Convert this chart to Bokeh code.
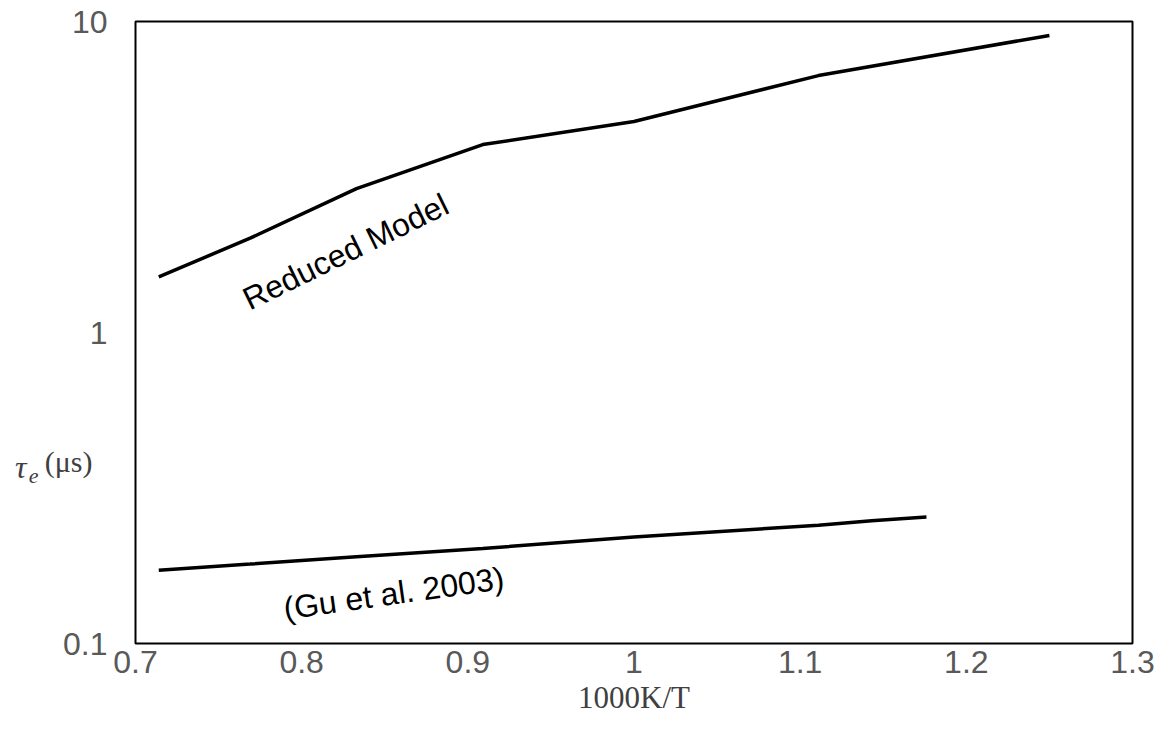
from bokeh.plotting import figure
from bokeh.models import FixedTicker, CustomJSTickFormatter, Label, Range1d, LogAxis
from bokeh.embed import file_html
from bokeh.resources import INLINE

# data
inv_temp = [0.714, 0.769, 0.833, 0.909, 1.0, 1.111, 1.25]
tau_reduced = [1.51, 2.01, 2.90, 4.02, 4.77, 6.70, 9.02]

inv_temp_gu = [0.714, 0.769, 0.833, 0.909, 1.0, 1.111, 1.143, 1.176]
tau_gu = [0.172, 0.180, 0.190, 0.202, 0.220, 0.240, 0.248, 0.255]

x_ticks = [0.7, 0.8, 0.9, 1.0, 1.1, 1.2, 1.3]
y_ticks = [0.1, 1, 10]

x_title = "1000K/T"
y_title_symbol = "τ"
y_title_sub = "e"
y_title_unit = "(μs)"

p = figure(width=1165, height=740, y_axis_type="log",
           x_range=Range1d(0.7, 1.3), y_range=Range1d(0.1, 10),
           output_backend="svg", toolbar_location=None,
           min_border_left=135, min_border_right=33,
           min_border_top=21, min_border_bottom=97)

p.line(inv_temp, tau_reduced, line_color="black", line_width=3.5)
p.line(inv_temp_gu, tau_gu, line_color="black", line_width=3.5)

p.xgrid.visible = False
p.ygrid.visible = False
p.outline_line_color = "black"
p.outline_line_width = 2
p.outline_line_alpha = 1.0
p.background_fill_color = "white"
p.border_fill_color = "white"

for ax in (p.xaxis[0], p.yaxis[0]):
    ax.axis_line_color = None
    ax.major_tick_line_color = None
    ax.minor_tick_line_color = None
    ax.major_tick_out = 0
    ax.minor_tick_out = 0
    ax.major_label_text_font = "Liberation Sans"
    ax.major_label_text_font_size = "32px"
    ax.major_label_text_color = "#595959"

p.xaxis.ticker = FixedTicker(ticks=x_ticks)
p.yaxis.ticker = FixedTicker(ticks=y_ticks)
p.xaxis.formatter = CustomJSTickFormatter(code="return String(Number(tick.toFixed(2)));")
p.yaxis.formatter = CustomJSTickFormatter(code="return String(Number(tick.toFixed(2)));")
p.xaxis.major_label_standoff = 7
p.yaxis.major_label_standoff = 28

p.xaxis.axis_label = x_title
p.xaxis.axis_label_text_font = "Liberation Serif"
p.xaxis.axis_label_text_font_style = "normal"
p.xaxis.axis_label_text_font_size = "31px"
p.xaxis.axis_label_text_color = "#404040"
p.xaxis.axis_label_standoff = 4


def title_axis(tick, text, size, style, standoff):
    ax = LogAxis(ticker=FixedTicker(ticks=[tick]),
                 formatter=CustomJSTickFormatter(code="return %r;" % text))
    ax.axis_line_color = None
    ax.major_tick_line_color = None
    ax.minor_tick_line_color = None
    ax.major_tick_out = 0
    ax.minor_tick_out = 0
    ax.major_label_text_font = "Liberation Serif"
    ax.major_label_text_font_style = style
    ax.major_label_text_font_size = size
    ax.major_label_text_color = "#404040"
    ax.major_label_standoff = standoff
    return ax


# y-axis title, stacked outward from the main y-axis
p.add_layout(title_axis(0.385, y_title_unit, "30px", "normal", -32), "left")
p.add_layout(title_axis(0.346, y_title_sub, "22px", "italic", 3), "left")
p.add_layout(title_axis(0.370, y_title_symbol, "32px", "italic", -1), "left")

# series annotations
p.add_layout(Label(x=0.8265, y=1.82, text="Reduced Model", text_font="Liberation Sans",
                   text_font_size="32px", text_color="black", angle=26,
                   angle_units="deg", text_align="center", text_baseline="middle"))
p.add_layout(Label(x=0.8554, y=0.145, text="(Gu et al. 2003)", text_font="Liberation Sans",
                   text_font_size="32px", text_color="black", angle=8,
                   angle_units="deg", text_align="center", text_baseline="middle"))

open("out.html", "w").write(file_html(p, INLINE))
